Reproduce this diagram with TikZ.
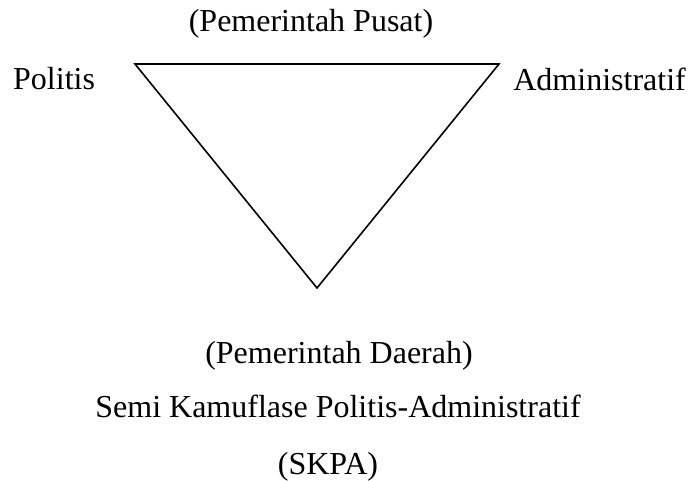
\documentclass[tikz,border=0pt]{standalone}
\usepackage{fontspec}
\setmainfont{Liberation Serif}
\begin{document}
\begin{tikzpicture}[x=1pt,y=-1pt,
  lbl/.style={inner sep=0pt,anchor=base,font=\fontsize{32}{38}\selectfont},
  edge/.style={line width=1.6pt,line join=miter}]
\useasboundingbox (0,0) rectangle (695,481);
% inverted triangle
\coordinate (tl) at (135,64);
\coordinate (tr) at (499,64);
\coordinate (bt) at (317,288);
\draw[edge] (tl) -- (tr) -- (bt) -- cycle;
% labels
\node[lbl] (pusat) at (311,32) {(Pemerintah Pusat)};
\node[lbl,anchor=base west] (politis) at (13,90) {Politis};
\node[lbl,anchor=base east] (admin) at (686,91) {Administratif};
\node[lbl] (daerah) at (339,363) {(Pemerintah Daerah)};
\node[lbl] (skpa1) at (338,417) {Semi Kamuflase Politis-Administratif};
\node[lbl] (skpa2) at (328,474) {(SKPA)};
\end{tikzpicture}
\end{document}
